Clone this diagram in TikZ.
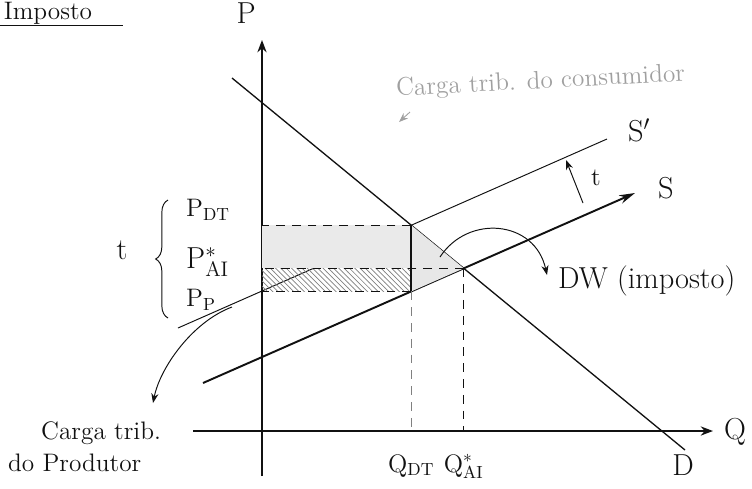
\documentclass[tikz,border=0pt]{standalone}
\usepackage{xcolor}
\usepackage{tikz}
\usetikzlibrary{arrows.meta,decorations.pathreplacing,intersections,patterns}
\definecolor{inkblack}{HTML}{111111}
\definecolor{pencilgray}{HTML}{A0A0A0}
\definecolor{shadegray}{HTML}{DCDCDC}

\begin{document}
\begin{tikzpicture}[>=Stealth,x=0.02cm,y=-0.02cm,
  curve/.style={inkblack,line width=.9pt},
  thincurve/.style={inkblack,line width=.55pt},
  guide/.style={inkblack,line width=.5pt,dash pattern=on 5pt off 4pt},
  lbl/.style={inkblack,font=\LARGE},
  sublbl/.style={inkblack,font=\Large}]
  \useasboundingbox (0,0) rectangle (752,488);

  % title
  \node[sublbl,anchor=base west,inner xsep=2pt] (title) at (0,19) {Imposto};
  \draw[thincurve] (0,25) -- (123,25);

  % axes
  \coordinate (o) at (262,431);
  \draw[curve,-{Stealth[length=7pt]}] (262,476) -- (262,40);
  \node[lbl,anchor=south east] (plabel) at (262,30) {P};
  \draw[curve,-{Stealth[length=7pt]}] (193,431) -- (713,431);
  \node[lbl,anchor=west] (qlabel) at (718,432) {Q};

  % demand and supply
  \draw[thincurve,line width=.75pt,name path=dem] (232,78) -- (685,450);
  \draw[curve,line width=1.1pt,-{Stealth[length=9pt,width=5pt]},name path=sup] (203,383) -- (635,193);
  \draw[thincurve,name path=supt] (178,328) -- (607,139);
  \path[name intersections={of=dem and sup,by=eq}];
  \path[name intersections={of=dem and supt,by=pdt}];
  \path[name path=vert] (pdt) -- ++(0,120);
  \path[name intersections={of=vert and sup,by=pp}];

  % burden areas
  \fill[shadegray!60] (o |- pdt) rectangle (pdt |- eq);
  \fill[pattern=north west lines,pattern color=gray] (o |- eq) rectangle (pp);
  \fill[shadegray!70] (pdt) -- (pp) -- (eq) -- cycle;

  % price and quantity guides
  \draw[guide] (pdt) -- (o |- pdt);
  \draw[guide] (eq) -- (o |- eq);
  \draw[guide] (pp) -- (o |- pp);
  \draw[curve] (pdt) -- (pp);
  \draw[guide,gray] (pp) -- (pp |- o);
  \draw[guide] (eq) -- (eq |- o);

  \node[lbl,anchor=south] (dlabel) at (683,482) {D};
  \node[lbl,anchor=west] (slabel) at (652,188) {S};
  \node[lbl,anchor=west] (sprlabel) at (622,130) {S$'$};
  \node[sublbl,anchor=north] (qdt) at (pp |- 0,448) {Q$_{\mathrm{DT}}$};
  \node[sublbl,anchor=north] (qai) at (eq |- 0,448) {Q$^{*}_{\mathrm{AI}}$};

  % tax shift
  \coordinate (tfoot) at (583,203);
  \coordinate (thead) at (566,160);
  \draw[thincurve,->] (tfoot) -- (thead);
  \node[sublbl,anchor=west] (tlabel) at (585,178) {t};

  % price labels and brace
  \node[sublbl,anchor=west] (pdtl) at (180,210) {P$_{\mathrm{DT}}$};
  \node[lbl,anchor=west] (pail) at (180,262) {P$^{*}_{\mathrm{AI}}$};
  \node[sublbl,anchor=west] (ppl) at (180,300) {P$_{\mathrm{P}}$};
  \draw[thincurve,decorate,decoration={brace,amplitude=7pt}]
    (168,318) -- (168,200);
  \node[lbl] (tbig) at (122,250) {t};

  % dead weight
  \coordinate (dwfoot) at (440,257);
  \node[lbl,anchor=west] (dw) at (552,281) {DW (imposto)};
  \draw[thincurve,->] (dwfoot) .. controls (468,214) and (535,220) .. (547,275);

  % who bears the tax
  \node[pencilgray,font=\Large,anchor=west,rotate=3] (cons) at (390,90) {Carga trib. do consumidor};
  \draw[pencilgray,line width=.5pt,->] (410,112) -- (399,122);
  \node[inkblack,font=\Large,align=left,anchor=west] (prod) at (2,447) {\ \ \ \ Carga trib.\\do Produtor};
  \coordinate (prodfoot) at (232,307);
  \draw[thincurve,->] (prodfoot) .. controls (192,322) and (160,368) .. (153,403);
\end{tikzpicture}
\end{document}
